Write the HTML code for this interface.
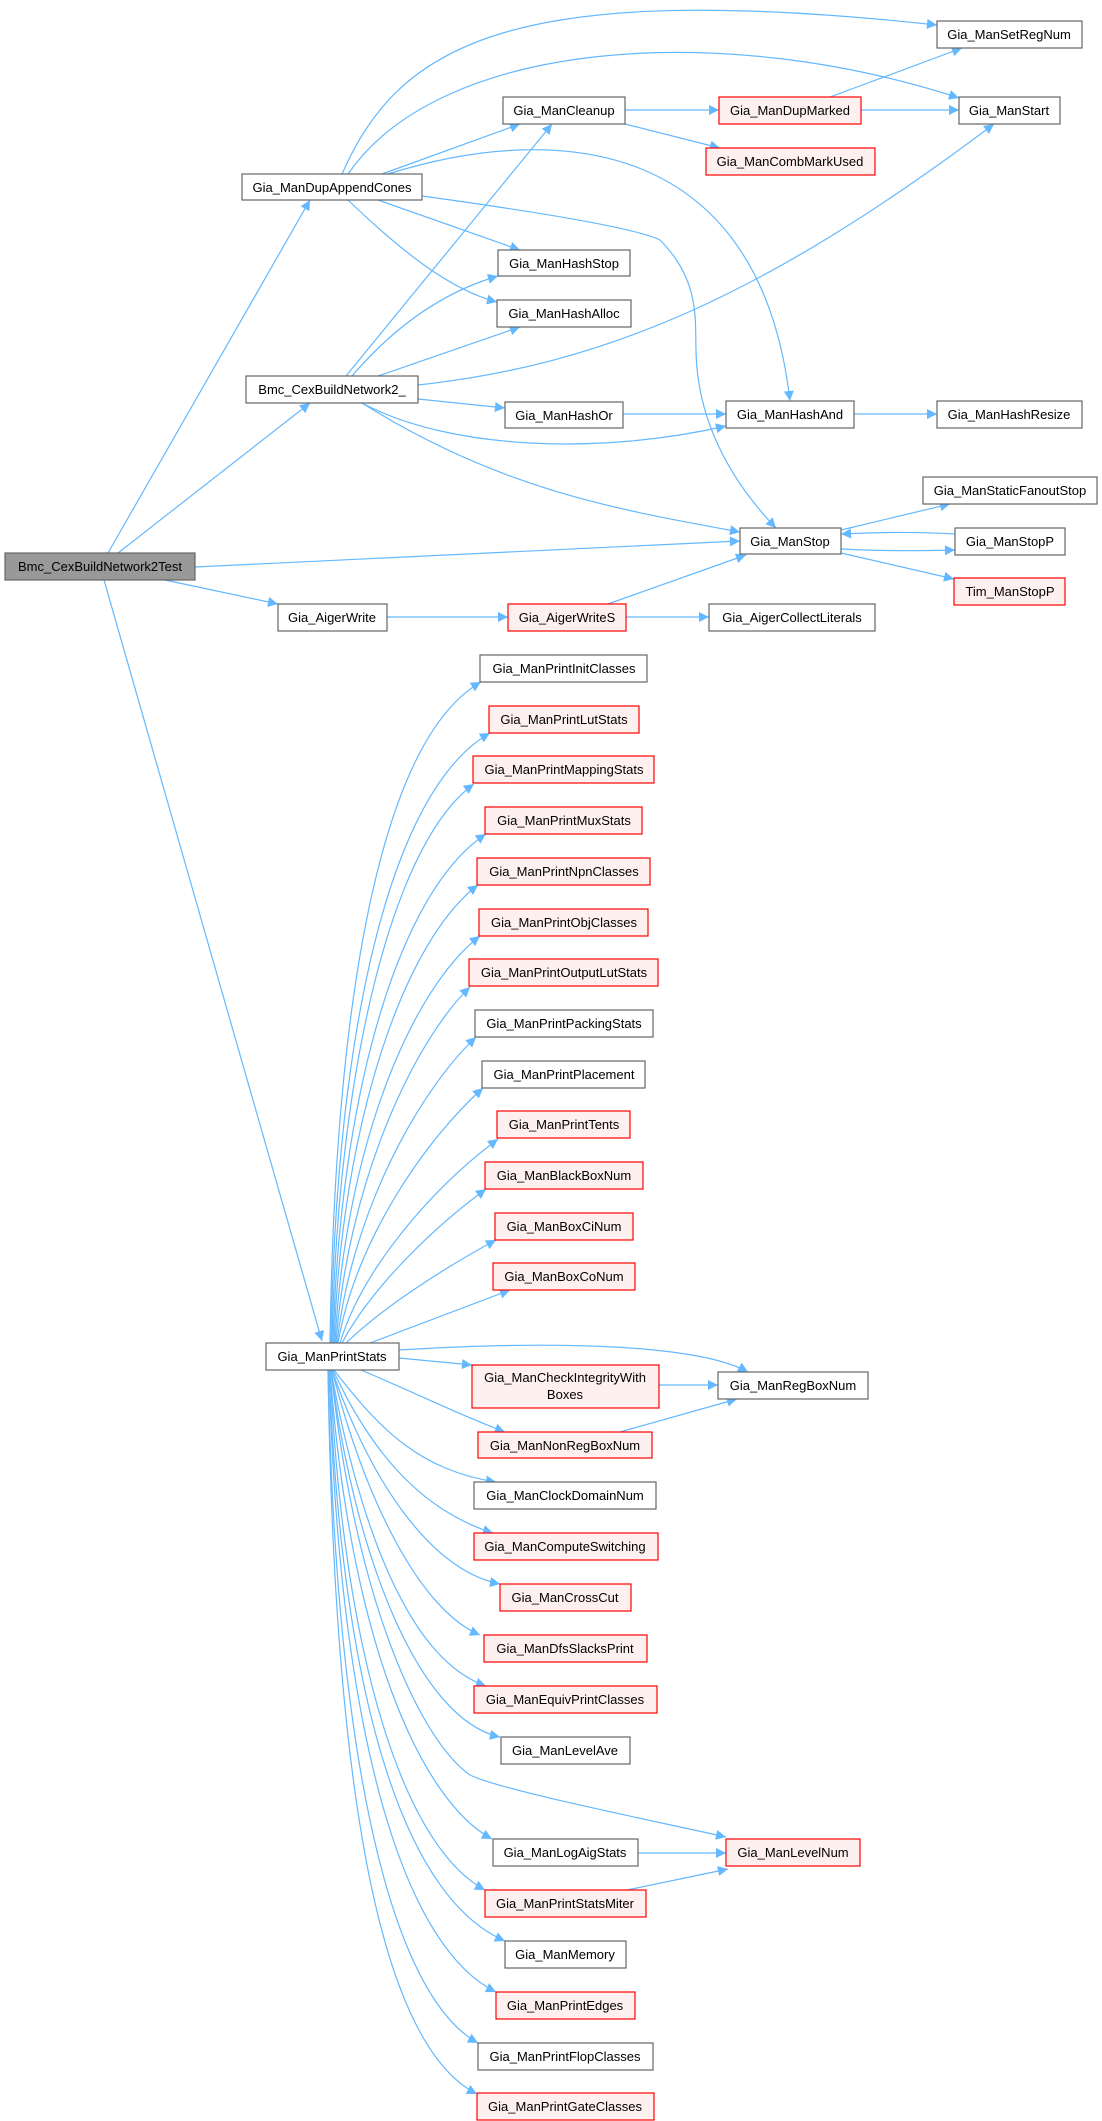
<!DOCTYPE html>
<html><head><meta charset="utf-8"><style>
html,body{margin:0;padding:0;background:#fff;}
svg{display:block;}
text{font-family:"Liberation Sans",Arial,sans-serif;font-size:13px;fill:#000;}
.e{fill:none;stroke:#63b8ff;stroke-width:1.2;}
.g{fill:#fff;stroke:#666;stroke-width:1.2;}
.r{fill:#fff0f0;stroke:#ff0000;stroke-width:1.2;}
.t{fill:#999;stroke:#666;stroke-width:1.2;}
</style></head><body>
<svg width="1102" height="2121" viewBox="0 0 1102 2121" xmlns="http://www.w3.org/2000/svg">
<defs><marker id="a" viewBox="0 0 10 10" refX="10" refY="5" markerWidth="14" markerHeight="10" markerUnits="userSpaceOnUse" orient="auto"><path d="M0,0 L10,5 L0,10 z" fill="#63b8ff"/></marker></defs>
<g class="e" marker-end="url(#a)">
<path d="M108,553 L310,200"/>
<path d="M118,553 L310,403"/>
<path d="M195,567 L740,541"/>
<path d="M165,580 L278,604"/>
<path d="M104,580 L322,1341"/>
<path d="M342,174 C400,40 520,-20 937,25"/>
<path d="M348,174 C440,40 720,20 959,98"/>
<path d="M382,174 L520,124"/>
<path d="M388,174 C560,120 760,140 790,401"/>
<path d="M422,196 C560,215 640,230 660,240 C700,280 695,320 696,350 C697,420 730,480 776,528"/>
<path d="M378,200 L520,250"/>
<path d="M348,200 C400,250 450,290 497,302"/>
<path d="M346,376 L552,124"/>
<path d="M352,376 C400,320 450,290 498,276"/>
<path d="M378,376 L520,327"/>
<path d="M418,385 C600,365 760,300 994,124"/>
<path d="M418,399 L505,408"/>
<path d="M362,403 C450,450 600,455 726,426"/>
<path d="M362,403 C500,490 620,510 740,532"/>
<path d="M625,110 L719,110"/>
<path d="M625,124 L720,148"/>
<path d="M830,97 L962,48"/>
<path d="M861,110 L959,110"/>
<path d="M623,414 L726,414"/>
<path d="M854,414 L937,414"/>
<path d="M841,530 L950,504"/>
<path d="M955,534 C920,532 880,532 841,534"/>
<path d="M841,549 C880,551 920,551 955,550"/>
<path d="M841,553 L954,579"/>
<path d="M387,617 L508,617"/>
<path d="M608,604 L746,555"/>
<path d="M626,617 L709,617"/>
<path d="M330,1343 C335,1000 380,740 481,682"/>
<path d="M331,1343 C336,1030 390,790 490,733"/>
<path d="M332,1343 C338,1060 395,840 474,784"/>
<path d="M333,1343 C340,1090 400,890 486,834"/>
<path d="M334,1343 C342,1120 405,940 478,885"/>
<path d="M335,1343 C345,1150 410,990 480,936"/>
<path d="M336,1343 C348,1180 415,1040 470,987"/>
<path d="M337,1343 C352,1210 420,1090 476,1037"/>
<path d="M338,1343 C356,1240 425,1140 483,1088"/>
<path d="M340,1343 C362,1270 430,1190 498,1139"/>
<path d="M342,1343 C370,1290 430,1230 486,1189"/>
<path d="M346,1343 C380,1310 440,1270 496,1240"/>
<path d="M370,1343 L510,1290"/>
<path d="M399,1350 C560,1340 700,1345 748,1372"/>
<path d="M399,1358 L472,1365"/>
<path d="M659,1385 L718,1385"/>
<path d="M361,1370 C420,1395 460,1415 505,1432"/>
<path d="M620,1432 L737,1399"/>
<path d="M334,1370 C380,1430 420,1470 496,1482"/>
<path d="M333,1370 C370,1450 420,1510 493,1533"/>
<path d="M332,1370 C370,1480 430,1570 500,1584"/>
<path d="M332,1370 C365,1500 420,1610 480,1635"/>
<path d="M331,1370 C360,1530 410,1660 486,1686"/>
<path d="M331,1370 C355,1560 420,1720 500,1737"/>
<path d="M331,1370 C355,1600 420,1740 470,1775 C500,1790 650,1820 726,1837"/>
<path d="M330,1370 C350,1640 420,1800 492,1839"/>
<path d="M330,1370 C345,1680 410,1850 485,1890"/>
<path d="M329,1370 C343,1720 410,1900 505,1941"/>
<path d="M329,1370 C340,1760 410,1950 496,1992"/>
<path d="M328,1370 C337,1800 400,2000 478,2043"/>
<path d="M328,1370 C335,1840 390,2050 477,2094"/>
<path d="M638,1853 L726,1853"/>
<path d="M627,1890 L728,1869"/>
</g>
<rect class="t" x="5" y="553" width="190" height="27"/><text x="100" y="571" text-anchor="middle">Bmc_CexBuildNetwork2Test</text>
<rect class="g" x="242" y="174" width="180" height="26"/><text x="332" y="192" text-anchor="middle">Gia_ManDupAppendCones</text>
<rect class="g" x="246" y="376" width="172" height="27"/><text x="332" y="394" text-anchor="middle">Bmc_CexBuildNetwork2_</text>
<rect class="g" x="503" y="97" width="122" height="27"/><text x="564" y="115" text-anchor="middle">Gia_ManCleanup</text>
<rect class="r" x="719" y="97" width="142" height="27"/><text x="790" y="115" text-anchor="middle">Gia_ManDupMarked</text>
<rect class="r" x="706" y="148" width="169" height="27"/><text x="790" y="166" text-anchor="middle">Gia_ManCombMarkUsed</text>
<rect class="g" x="937" y="21" width="145" height="27"/><text x="1009" y="39" text-anchor="middle">Gia_ManSetRegNum</text>
<rect class="g" x="959" y="97" width="101" height="27"/><text x="1009" y="115" text-anchor="middle">Gia_ManStart</text>
<rect class="g" x="498" y="250" width="132" height="26"/><text x="564" y="268" text-anchor="middle">Gia_ManHashStop</text>
<rect class="g" x="497" y="300" width="134" height="27"/><text x="564" y="318" text-anchor="middle">Gia_ManHashAlloc</text>
<rect class="g" x="505" y="402" width="118" height="26"/><text x="564" y="420" text-anchor="middle">Gia_ManHashOr</text>
<rect class="g" x="726" y="401" width="128" height="27"/><text x="790" y="419" text-anchor="middle">Gia_ManHashAnd</text>
<rect class="g" x="937" y="401" width="145" height="27"/><text x="1009" y="419" text-anchor="middle">Gia_ManHashResize</text>
<rect class="g" x="923" y="477" width="174" height="27"/><text x="1010" y="495" text-anchor="middle">Gia_ManStaticFanoutStop</text>
<rect class="g" x="740" y="528" width="101" height="26"/><text x="790" y="546" text-anchor="middle">Gia_ManStop</text>
<rect class="g" x="955" y="528" width="110" height="27"/><text x="1010" y="546" text-anchor="middle">Gia_ManStopP</text>
<rect class="r" x="954" y="578" width="111" height="27"/><text x="1010" y="596" text-anchor="middle">Tim_ManStopP</text>
<rect class="g" x="278" y="604" width="109" height="27"/><text x="332" y="622" text-anchor="middle">Gia_AigerWrite</text>
<rect class="r" x="508" y="604" width="118" height="27"/><text x="567" y="622" text-anchor="middle">Gia_AigerWriteS</text>
<rect class="g" x="709" y="604" width="166" height="27"/><text x="792" y="622" text-anchor="middle">Gia_AigerCollectLiterals</text>
<rect class="g" x="266" y="1343" width="133" height="27"/><text x="332" y="1361" text-anchor="middle">Gia_ManPrintStats</text>
<rect class="g" x="480" y="655" width="167" height="27"/><text x="564" y="673" text-anchor="middle">Gia_ManPrintInitClasses</text>
<rect class="r" x="489" y="706" width="150" height="27"/><text x="564" y="724" text-anchor="middle">Gia_ManPrintLutStats</text>
<rect class="r" x="473" y="756" width="181" height="27"/><text x="564" y="774" text-anchor="middle">Gia_ManPrintMappingStats</text>
<rect class="r" x="485" y="807" width="157" height="27"/><text x="564" y="825" text-anchor="middle">Gia_ManPrintMuxStats</text>
<rect class="r" x="477" y="858" width="173" height="27"/><text x="564" y="876" text-anchor="middle">Gia_ManPrintNpnClasses</text>
<rect class="r" x="479" y="909" width="169" height="27"/><text x="564" y="927" text-anchor="middle">Gia_ManPrintObjClasses</text>
<rect class="r" x="469" y="959" width="189" height="27"/><text x="564" y="977" text-anchor="middle">Gia_ManPrintOutputLutStats</text>
<rect class="g" x="475" y="1010" width="178" height="27"/><text x="564" y="1028" text-anchor="middle">Gia_ManPrintPackingStats</text>
<rect class="g" x="482" y="1061" width="163" height="27"/><text x="564" y="1079" text-anchor="middle">Gia_ManPrintPlacement</text>
<rect class="r" x="497" y="1111" width="133" height="27"/><text x="564" y="1129" text-anchor="middle">Gia_ManPrintTents</text>
<rect class="r" x="485" y="1162" width="158" height="27"/><text x="564" y="1180" text-anchor="middle">Gia_ManBlackBoxNum</text>
<rect class="r" x="495" y="1213" width="138" height="27"/><text x="564" y="1231" text-anchor="middle">Gia_ManBoxCiNum</text>
<rect class="r" x="493" y="1263" width="142" height="27"/><text x="564" y="1281" text-anchor="middle">Gia_ManBoxCoNum</text>
<rect class="r" x="472" y="1365" width="187" height="43"/><text x="565" y="1382" text-anchor="middle">Gia_ManCheckIntegrityWith</text><text x="565" y="1399" text-anchor="middle">Boxes</text>
<rect class="g" x="718" y="1372" width="150" height="27"/><text x="793" y="1390" text-anchor="middle">Gia_ManRegBoxNum</text>
<rect class="r" x="478" y="1432" width="174" height="26"/><text x="565" y="1450" text-anchor="middle">Gia_ManNonRegBoxNum</text>
<rect class="g" x="474" y="1482" width="182" height="27"/><text x="565" y="1500" text-anchor="middle">Gia_ManClockDomainNum</text>
<rect class="r" x="474" y="1533" width="184" height="27"/><text x="565" y="1551" text-anchor="middle">Gia_ManComputeSwitching</text>
<rect class="r" x="500" y="1584" width="131" height="27"/><text x="565" y="1602" text-anchor="middle">Gia_ManCrossCut</text>
<rect class="r" x="484" y="1635" width="163" height="27"/><text x="565" y="1653" text-anchor="middle">Gia_ManDfsSlacksPrint</text>
<rect class="r" x="474" y="1686" width="183" height="27"/><text x="565" y="1704" text-anchor="middle">Gia_ManEquivPrintClasses</text>
<rect class="g" x="501" y="1737" width="129" height="27"/><text x="565" y="1755" text-anchor="middle">Gia_ManLevelAve</text>
<rect class="g" x="493" y="1839" width="145" height="27"/><text x="565" y="1857" text-anchor="middle">Gia_ManLogAigStats</text>
<rect class="r" x="726" y="1839" width="134" height="27"/><text x="793" y="1857" text-anchor="middle">Gia_ManLevelNum</text>
<rect class="r" x="485" y="1890" width="161" height="27"/><text x="565" y="1908" text-anchor="middle">Gia_ManPrintStatsMiter</text>
<rect class="g" x="505" y="1941" width="121" height="27"/><text x="565" y="1959" text-anchor="middle">Gia_ManMemory</text>
<rect class="r" x="496" y="1992" width="139" height="27"/><text x="565" y="2010" text-anchor="middle">Gia_ManPrintEdges</text>
<rect class="g" x="478" y="2043" width="175" height="27"/><text x="565" y="2061" text-anchor="middle">Gia_ManPrintFlopClasses</text>
<rect class="r" x="477" y="2093" width="177" height="27"/><text x="565" y="2111" text-anchor="middle">Gia_ManPrintGateClasses</text>
</svg>
</body></html>
